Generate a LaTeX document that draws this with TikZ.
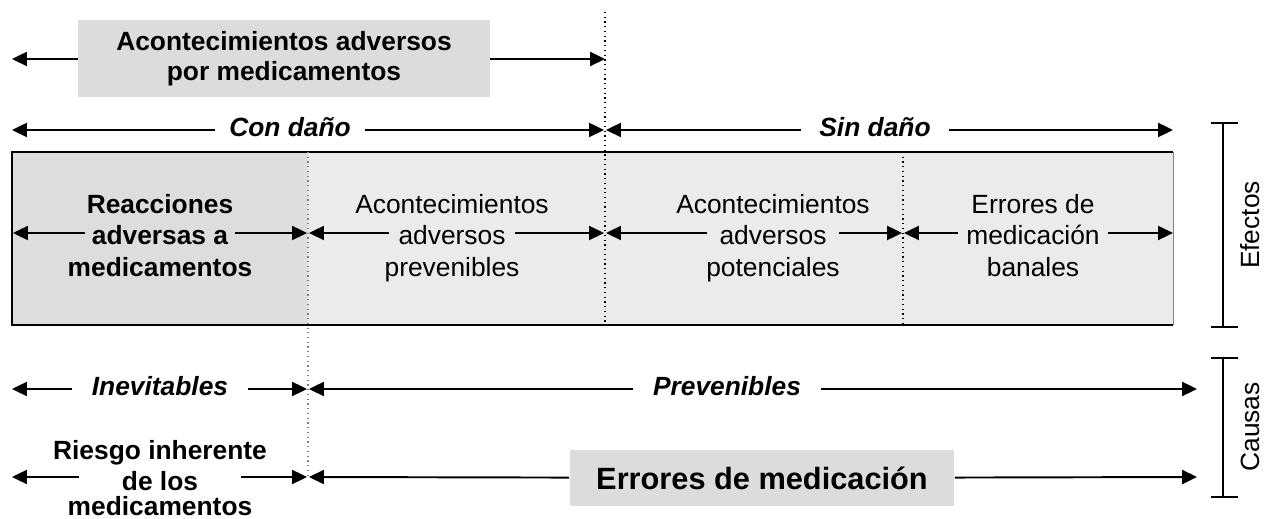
\documentclass[tikz,border=0pt]{standalone}
\usepackage{fontspec}
\setmainfont{Liberation Sans}
\usetikzlibrary{positioning, arrows.meta}

\definecolor{grisosc}{HTML}{DDDDDD}
\definecolor{grisclaro}{HTML}{EBEBEB}
\definecolor{griscaja}{HTML}{DCDCDC}
\newcommand{\tamano}{\fontsize{15}{17}\selectfont}

\begin{document}
\begin{tikzpicture}[x=0.02cm, y=-0.02cm, font=\tamano,
  flecha/.style = {-{Triangle[length=8.5pt, width=8pt]}, line width=1.1pt},
  punteado/.style = {dotted, line width=0.7pt},
  txt/.style = {inner ysep=0pt, text height=11pt, text depth=4pt},
  medio/.style = {inner ysep=0pt, text height=#1, text depth=0pt},
  encima/.style = {inner sep=0pt, text height=11pt, text depth=4pt, label distance=#1},
  debajo/.style = {inner sep=0pt, text height=11pt, text depth=4pt, label distance=#1},
  negrita/.style = {font=\tamano\bfseries},
  cursiva/.style = {font=\tamano\bfseries\itshape},
  caja/.style = {fill=griscaja, inner sep=0pt, align=center}]
\useasboundingbox (0,0) rectangle (1264,519);

% franja de efectos
\fill[grisosc] (12,152) rectangle (308,325);
\fill[grisclaro] (308,152) rectangle (1173,325);
\draw[line width=1.2pt] (1173,152) -- (12,152) -- (12,325) -- (1173,325);
\draw[gray, line width=0.5pt] (1173,152) -- (1173,325);
\draw[punteado] (605,12) -- (605,325);
\draw[punteado] (903,152) -- (903,325);
\draw[punteado, gray] (308,152) -- (308,478);

% textos
\node[caja, negrita, minimum width=8.24cm, minimum height=1.54cm] (adm) at (284,59) {Acontecimientos adversos\\por medicamentos};
\node[txt, cursiva, inner xsep=8pt] (con) at (290,130) {Con daño};
\node[txt, cursiva, inner xsep=10pt] (sin) at (875,130) {Sin daño};

\node[medio=13.6pt, negrita, inner xsep=3.5pt, label={[encima=0pt, negrita]above:Reacciones}, label={[debajo=6.6pt, negrita]below:medicamentos}] (ram) at (160,233) {adversas a};
\node[medio=13.6pt, inner xsep=5.5pt, label={[encima=0pt]above:Acontecimientos}, label={[debajo=6.6pt]below:prevenibles}] (aprev) at (452,233) {adversos};
\node[medio=13.6pt, inner xsep=7pt, label={[encima=0pt]above:Acontecimientos}, label={[debajo=6.6pt]below:potenciales}] (apot) at (773,233) {adversos};
\node[medio=13.6pt, inner xsep=4.5pt, label={[encima=0pt]above:Errores de}, label={[debajo=6.6pt]below:banales}] (eban) at (1033,233) {medicación};

\node[txt, cursiva, inner xsep=11pt] (inev) at (160,389) {Inevitables};
\node[txt, cursiva, inner xsep=11pt] (prev) at (727,389) {Prevenibles};
\node[medio=15.8pt, negrita, inner xsep=24pt, label={[encima=-2.2pt, negrita]above:Riesgo inherente}, label={[debajo=2.5pt, negrita, text depth=0pt]below:medicamentos}] (riesgo) at (160,477) {de los};
\node[caja, font=\fontsize{17.5}{20}\selectfont\bfseries, minimum width=7.7cm, minimum height=1.14cm] (em) at (762,478) {Errores de medicación};

\node[rotate=90] (efe) at (1250,225) {Efectos};
\node[rotate=90] (cau) at (1250,427) {Causas};

% extremos
\coordinate (izA) at (12,59);
\coordinate (deA) at (605,59);
\coordinate (izB) at (12,130);
\coordinate (mB1) at (604,130);
\coordinate (mB2) at (606,130);
\coordinate (deB) at (1173,130);
\coordinate (izC) at (13,233);
\coordinate (c1) at (307,233);
\coordinate (c2) at (309,233);
\coordinate (c3) at (604,233);
\coordinate (c4) at (606,233);
\coordinate (c5) at (902,233);
\coordinate (c6) at (904,233);
\coordinate (deC) at (1173,233);
\coordinate (izD) at (12,389);
\coordinate (d1) at (307,389);
\coordinate (d2) at (309,389);
\coordinate (deD) at (1197,389);
\coordinate (izE) at (12,477);
\coordinate (e1) at (307,477);
\coordinate (e2) at (309,477);
\coordinate (deE) at (1197,477);

\draw[flecha] (adm) -- (izA);
\draw[flecha] (adm) -- (deA);
\draw[flecha] (con) -- (izB);
\draw[flecha] (con) -- (mB1);
\draw[flecha] (sin) -- (mB2);
\draw[flecha] (sin) -- (deB);
\draw[flecha] (ram) -- (izC);
\draw[flecha] (ram) -- (c1);
\draw[flecha] (aprev) -- (c2);
\draw[flecha] (aprev) -- (c3);
\draw[flecha] (apot) -- (c4);
\draw[flecha] (apot) -- (c5);
\draw[flecha] (eban) -- (c6);
\draw[flecha] (eban) -- (deC);
\draw[flecha] (inev) -- (izD);
\draw[flecha] (inev) -- (d1);
\draw[flecha] (prev) -- (d2);
\draw[flecha] (prev) -- (deD);
\draw[flecha] (riesgo) -- (izE);
\draw[flecha] (riesgo) -- (e1);
\draw[flecha] (em) -- (e2);
\draw[flecha] (em) -- (deE);

% corchetes
\draw[line width=0.8pt] (1223,123) -- (1223,327);
\draw[line width=0.8pt] (1211,123) -- (1238,123);
\draw[line width=0.8pt] (1211,327) -- (1238,327);
\draw[line width=0.8pt] (1223,358) -- (1223,497);
\draw[line width=0.8pt] (1211,358) -- (1238,358);
\draw[line width=0.8pt] (1211,497) -- (1238,497);

\end{tikzpicture}
\end{document}
